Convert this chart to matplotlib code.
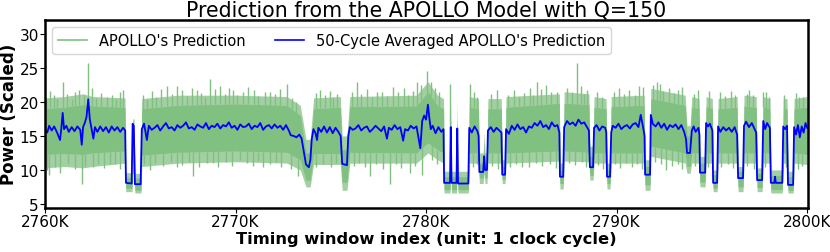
import numpy as np
import matplotlib
matplotlib.use('Agg')
import matplotlib.pyplot as plt
from matplotlib.lines import Line2D

# timing window index, in thousands of cycles
blue_x = [2760.00, 2760.12, 2760.22, 2760.35, 2760.48, 2760.62, 2760.79, 2760.86, 2760.93, 2761.00,
          2761.12, 2761.25, 2761.40, 2761.55, 2761.70, 2761.85, 2761.93, 2762.00, 2762.10, 2762.18,
          2762.27, 2762.35, 2762.45, 2762.54, 2762.62, 2762.75, 2762.90, 2763.05, 2763.20, 2763.35,
          2763.50, 2763.65, 2763.80, 2763.95, 2764.10, 2764.21, 2764.25, 2764.55, 2764.60, 2764.66,
          2764.72, 2765.02, 2765.08, 2765.20, 2765.35, 2765.45, 2765.60, 2765.75, 2765.90, 2766.05,
          2766.20, 2766.35, 2766.50, 2766.65, 2766.80, 2766.95, 2767.10, 2767.25, 2767.40, 2767.55,
          2767.70, 2767.85, 2768.00, 2768.15, 2768.30, 2768.45, 2768.60, 2768.75, 2768.90, 2769.05,
          2769.20, 2769.35, 2769.50, 2769.65, 2769.80, 2769.95, 2770.10, 2770.25, 2770.40, 2770.55,
          2770.70, 2770.85, 2771.00, 2771.15, 2771.30, 2771.45, 2771.60, 2771.75, 2771.90, 2772.05,
          2772.20, 2772.35, 2772.50, 2772.65, 2772.80, 2772.90, 2773.05, 2773.20, 2773.35, 2773.47,
          2773.60, 2773.70, 2773.85, 2773.93, 2774.00, 2774.09, 2774.20, 2774.28, 2774.35, 2774.50,
          2774.65, 2774.80, 2774.95, 2775.10, 2775.25, 2775.40, 2775.52, 2775.60, 2775.85, 2775.92,
          2776.00, 2776.15, 2776.30, 2776.45, 2776.60, 2776.75, 2776.90, 2777.05, 2777.20, 2777.35,
          2777.50, 2777.65, 2777.80, 2777.95, 2778.05, 2778.20, 2778.35, 2778.50, 2778.65, 2778.80,
          2778.90, 2779.05, 2779.20, 2779.35, 2779.50, 2779.70, 2779.80, 2779.90, 2780.00, 2780.10,
          2780.18, 2780.25, 2780.35, 2780.50, 2780.65, 2780.80, 2780.92, 2780.95, 2781.26, 2781.30,
          2781.34, 2781.60, 2781.64, 2781.68, 2782.22, 2782.27, 2782.40, 2782.55, 2782.70, 2782.76,
          2782.80, 2783.00, 2783.05, 2783.10, 2783.20, 2783.25, 2783.40, 2783.55, 2783.70, 2783.85,
          2783.96, 2784.00, 2784.15, 2784.20, 2784.35, 2784.50, 2784.65, 2784.80, 2784.95, 2785.10,
          2785.25, 2785.40, 2785.55, 2785.70, 2785.85, 2786.00, 2786.15, 2786.30, 2786.45, 2786.60,
          2786.75, 2786.90, 2787.00, 2787.03, 2787.20, 2787.25, 2787.40, 2787.55, 2787.70, 2787.85,
          2788.00, 2788.15, 2788.30, 2788.45, 2788.55, 2788.60, 2788.77, 2788.82, 2788.95, 2789.10,
          2789.25, 2789.40, 2789.46, 2789.50, 2789.66, 2789.72, 2789.80, 2789.95, 2790.10, 2790.25,
          2790.40, 2790.55, 2790.70, 2790.85, 2791.00, 2791.15, 2791.27, 2791.40, 2791.47, 2791.50,
          2791.76, 2791.80, 2791.90, 2792.05, 2792.20, 2792.35, 2792.50, 2792.65, 2792.80, 2792.95,
          2793.10, 2793.25, 2793.40, 2793.55, 2793.65, 2793.70, 2793.86, 2793.95, 2794.05, 2794.15,
          2794.30, 2794.35, 2794.38, 2794.65, 2794.70, 2794.80, 2794.90, 2795.03, 2795.07, 2795.28,
          2795.33, 2795.45, 2795.60, 2795.75, 2795.90, 2796.05, 2796.20, 2796.33, 2796.38, 2796.64,
          2796.69, 2796.80, 2796.95, 2797.10, 2797.25, 2797.33, 2797.38, 2797.64, 2797.70, 2797.80,
          2797.90, 2798.05, 2798.10, 2798.28, 2798.32, 2798.36, 2798.70, 2798.75, 2798.85, 2798.95,
          2799.00, 2799.27, 2799.32, 2799.42, 2799.52, 2799.62, 2799.72, 2799.82, 2799.92, 2800.00]
blue_y = [16.0, 15.5, 16.5, 15.8, 16.4, 15.6, 14.4, 16.2, 18.4, 16.0,
          16.5, 15.6, 16.3, 15.7, 16.4, 15.9, 13.7, 16.3, 17.0, 17.8,
          20.4, 17.5, 16.0, 14.6, 16.3, 15.6, 16.4, 15.7, 16.3, 15.5,
          16.4, 15.8, 16.3, 15.6, 16.2, 15.8, 8.1, 8.0, 16.8, 16.5,
          7.9, 7.9, 16.0, 16.8, 14.4, 16.5, 15.9, 16.2, 16.6, 15.8,
          16.4, 16.9, 16.1, 16.3, 15.8, 16.6, 16.2, 16.5, 17.0, 16.1,
          16.3, 15.9, 16.7, 16.4, 16.2, 16.9, 16.0, 16.5, 16.3, 16.8,
          16.1, 16.6, 16.4, 17.0, 16.2, 16.5, 15.9, 16.7, 16.3, 16.4,
          16.8, 16.0, 16.5, 16.3, 16.9, 15.9, 16.4, 16.6, 16.1, 16.7,
          16.2, 16.5, 15.9, 16.6, 15.8, 15.1, 15.0, 14.8, 15.2, 14.6,
          12.5, 10.8, 10.4, 11.5, 14.5, 16.0, 15.4, 14.4, 16.2, 15.6,
          16.4, 15.5, 16.3, 15.4, 16.2, 15.6, 15.0, 10.9, 10.7, 15.0,
          16.3, 15.9, 16.1, 16.6, 15.8, 16.2, 16.4, 15.6, 16.0, 16.5,
          16.1, 15.7, 16.4, 14.6, 16.2, 15.9, 16.6, 16.0, 16.3, 14.3,
          16.0, 15.8, 16.5, 16.1, 16.4, 13.2, 17.2, 18.0, 17.4, 19.6,
          17.5, 16.0, 16.5, 15.4, 16.3, 15.6, 16.0, 8.1, 8.1, 16.3,
          8.1, 8.1, 16.1, 8.0, 8.0, 16.2, 15.5, 16.4, 15.7, 15.0,
          9.7, 9.7, 12.0, 10.0, 10.0, 15.8, 16.3, 15.6, 16.2, 15.8,
          15.5, 9.3, 9.3, 16.0, 15.3, 16.5, 15.9, 16.7, 16.0, 16.3,
          15.5, 16.4, 16.2, 16.9, 16.5, 17.2, 16.3, 16.6, 16.0, 17.0,
          16.4, 16.6, 15.5, 9.0, 9.0, 16.3, 17.2, 16.7, 17.0, 16.5,
          17.4, 16.8, 17.0, 16.3, 15.8, 10.4, 10.4, 16.2, 16.6, 15.8,
          16.4, 16.2, 15.6, 9.0, 9.0, 15.5, 16.5, 16.2, 16.8, 16.0,
          16.4, 16.6, 16.1, 16.7, 16.9, 16.3, 18.1, 16.2, 15.0, 9.3,
          9.3, 18.1, 16.8, 16.4, 17.0, 16.2, 16.8, 15.9, 16.6, 16.3,
          16.7, 16.0, 16.6, 15.6, 14.5, 12.5, 12.5, 15.8, 16.4, 15.6,
          16.2, 15.2, 9.6, 9.6, 16.9, 16.4, 16.8, 15.8, 8.1, 8.1,
          16.4, 15.6, 16.3, 15.8, 16.2, 15.6, 16.3, 15.2, 8.8, 8.8,
          16.5, 17.1, 16.3, 16.9, 16.0, 15.5, 8.5, 8.5, 17.2, 16.0,
          16.9, 16.2, 8.1, 8.1, 9.0, 8.1, 8.1, 16.4, 16.0, 16.5,
          7.8, 7.8, 16.3, 15.2, 16.6, 14.8, 16.4, 15.5, 16.9, 16.2]

# envelope of the raw prediction: outer (sparse spikes) and dense core
band_x = [2760.00, 2761.00, 2762.00, 2762.50, 2764.20, 2764.24, 2764.57, 2764.60, 2764.68, 2764.72,
          2765.04, 2765.08, 2767.00, 2770.00, 2772.70, 2773.40, 2773.70, 2773.92, 2774.10, 2775.50,
          2775.60, 2775.85, 2776.00, 2779.50, 2780.10, 2780.60, 2780.92, 2780.95, 2781.26, 2781.30,
          2781.34, 2781.60, 2781.64, 2781.68, 2782.22, 2782.27, 2782.75, 2782.80, 2783.00, 2783.05,
          2783.10, 2783.20, 2783.25, 2783.95, 2784.00, 2784.15, 2784.20, 2787.00, 2787.03, 2787.20,
          2787.25, 2788.55, 2788.60, 2788.77, 2788.82, 2789.45, 2789.50, 2789.66, 2789.72, 2791.45,
          2791.50, 2791.76, 2791.80, 2793.60, 2793.70, 2793.86, 2793.95, 2794.33, 2794.38, 2794.65,
          2794.70, 2795.03, 2795.07, 2795.28, 2795.33, 2796.33, 2796.38, 2796.64, 2796.69, 2797.33,
          2797.38, 2797.64, 2797.69, 2798.05, 2798.10, 2798.70, 2798.75, 2798.95, 2799.00, 2799.27,
          2799.32, 2800.00]
outer_lo = [10.3, 10.5, 10.3, 10.5, 11.0, 6.8, 6.8, 9.5, 9.5, 6.6,
            6.6, 10.5, 11.0, 11.2, 11.0, 10.0, 7.5, 7.5, 10.8, 10.8,
            7.0, 7.0, 11.0, 11.0, 12.5, 11.5, 11.0, 6.6, 6.6, 10.0,
            6.6, 6.6, 10.0, 6.6, 6.6, 11.0, 11.0, 8.0, 8.0, 9.5,
            8.0, 8.0, 11.0, 11.0, 8.0, 8.0, 11.0, 11.3, 7.2, 7.2,
            11.3, 11.2, 8.5, 8.5, 11.0, 11.0, 7.2, 7.2, 11.0, 11.0,
            7.0, 7.0, 12.0, 11.0, 9.5, 9.5, 11.0, 11.0, 7.5, 7.5,
            11.0, 11.0, 6.8, 6.8, 11.0, 11.0, 6.8, 6.8, 11.0, 11.0,
            6.8, 6.8, 11.0, 11.0, 6.6, 6.6, 11.0, 11.0, 6.6, 6.6,
            11.0, 10.8]
core_lo = [12.3, 12.4, 12.3, 12.5, 12.8, 7.3, 7.3, 11.0, 11.0, 7.0,
           7.0, 12.2, 12.6, 12.8, 12.6, 11.5, 8.5, 8.5, 12.4, 12.4,
           8.2, 8.2, 12.6, 12.5, 14.0, 13.0, 12.5, 7.1, 7.1, 12.0,
           7.1, 7.1, 12.0, 7.1, 7.1, 12.5, 12.5, 8.8, 8.8, 10.5,
           8.8, 8.8, 12.5, 12.5, 8.6, 8.6, 12.5, 12.8, 8.0, 8.0,
           12.8, 12.6, 9.2, 9.2, 12.5, 12.5, 8.0, 8.0, 12.5, 12.5,
           7.8, 7.8, 13.5, 12.5, 10.5, 10.5, 12.5, 12.5, 8.2, 8.2,
           12.5, 12.5, 7.3, 7.3, 12.5, 12.5, 7.5, 7.5, 12.5, 12.5,
           7.4, 7.4, 12.5, 12.5, 7.1, 7.1, 12.5, 12.5, 7.0, 7.0,
           12.5, 12.3]
core_hi = [19.0, 19.2, 19.6, 19.4, 19.2, 8.9, 8.9, 16.0, 16.0, 8.8,
           8.8, 19.0, 19.5, 19.7, 19.5, 18.0, 12.5, 12.5, 19.0, 19.2,
           13.0, 13.0, 19.3, 19.4, 21.5, 19.5, 19.0, 9.0, 9.0, 18.0,
           9.0, 9.0, 18.0, 9.0, 9.0, 19.2, 19.0, 11.0, 11.0, 14.0,
           11.0, 11.0, 19.0, 19.0, 10.5, 10.5, 19.2, 19.8, 10.0, 10.0,
           19.8, 19.6, 12.0, 12.0, 19.2, 19.0, 10.0, 10.0, 19.3, 19.5,
           10.5, 10.5, 20.5, 19.5, 15.0, 15.0, 19.2, 19.0, 11.0, 11.0,
           19.3, 19.0, 9.3, 9.3, 19.0, 19.2, 9.8, 9.8, 19.4, 19.2,
           9.5, 9.5, 19.3, 19.0, 9.2, 9.2, 19.0, 19.0, 9.0, 9.0,
           19.0, 19.2]
outer_hi = [20.6, 20.8, 21.2, 20.8, 20.6, 9.6, 9.6, 17.5, 17.5, 9.5,
            9.5, 20.5, 21.0, 21.0, 20.8, 19.5, 14.5, 14.5, 20.6, 20.8,
            15.0, 15.0, 20.8, 21.0, 23.0, 21.0, 20.5, 9.8, 9.8, 20.0,
            9.8, 9.8, 20.0, 9.8, 9.8, 20.8, 20.5, 12.5, 12.5, 15.5,
            12.5, 12.5, 20.5, 20.5, 11.5, 11.5, 20.8, 21.2, 11.0, 11.0,
            21.5, 21.2, 13.5, 13.5, 20.8, 20.5, 11.0, 11.0, 20.8, 21.0,
            11.5, 11.5, 22.0, 21.0, 16.5, 16.5, 20.8, 20.5, 12.0, 12.0,
            20.8, 20.5, 10.0, 10.0, 20.5, 20.8, 10.5, 10.5, 21.0, 20.8,
            10.3, 10.3, 20.8, 20.5, 10.0, 10.0, 20.5, 20.5, 9.8, 9.8,
            20.5, 20.8]

# single-cycle peaks sticking out of the band
spike_up_x = [2760.26, 2760.93, 2761.80, 2762.27, 2763.24, 2764.11, 2765.34, 2766.39, 2766.91, 2767.96,
              2768.66, 2769.19, 2769.88, 2770.67, 2771.81, 2772.69, 2774.44, 2775.13, 2776.36, 2777.41,
              2778.28, 2779.51, 2780.04, 2781.26, 2782.31, 2784.90, 2785.81, 2786.85, 2787.91, 2788.45,
              2791.40, 2792.10, 2792.28, 2793.42, 2794.30, 2796.83, 2797.70, 2799.80,
              2760.05, 2760.45, 2760.65, 2761.15, 2761.40, 2761.60, 2762.05, 2762.45, 2762.70, 2762.95,
              2763.50, 2763.75, 2763.95, 2765.15, 2765.60, 2765.85, 2766.10, 2766.65, 2767.20, 2767.45,
              2767.70, 2768.20, 2768.40, 2768.95, 2769.45, 2769.65, 2770.10, 2770.40, 2770.95, 2771.20,
              2771.55, 2772.05, 2772.35, 2772.95, 2773.20, 2774.20, 2774.70, 2774.95, 2775.35, 2776.10,
              2776.60, 2776.90, 2777.15, 2777.70, 2777.95, 2778.55, 2778.85, 2779.05, 2779.30, 2779.75,
              2780.25, 2780.45, 2780.70, 2782.50, 2782.65, 2783.40, 2783.70, 2784.30, 2784.60, 2785.15,
              2785.45, 2785.60, 2786.05, 2786.30, 2786.55, 2787.40, 2787.65, 2788.15, 2788.30, 2789.00,
              2789.25, 2789.85, 2790.15, 2790.40, 2790.65, 2790.95, 2791.20, 2791.90, 2792.45, 2792.75,
              2793.00, 2793.25, 2794.05, 2794.85, 2795.45, 2795.70, 2796.00, 2796.20, 2796.95, 2797.15,
              2797.85, 2798.00, 2798.80, 2799.40, 2799.60]
spike_up_y = [21.6, 23.0, 21.8, 25.7, 20.8, 21.7, 20.5, 22.3, 22.3, 21.8,
              23.4, 22.3, 21.8, 22.2, 21.5, 22.7, 21.8, 20.8, 23.0, 21.5,
              22.2, 23.0, 24.5, 22.7, 22.7, 20.8, 23.0, 21.5, 25.7, 21.8,
              22.2, 23.0, 22.7, 22.2, 21.8, 21.2, 21.5, 20.8,
              20.3, 21.0, 20.5, 21.2, 20.4, 21.5, 21.0, 22.0, 20.6, 21.3,
              21.0, 20.4, 21.4, 21.0, 21.6, 20.8, 21.9, 21.2, 21.7, 20.9,
              22.0, 21.3, 20.8, 21.9, 21.2, 22.0, 21.0, 21.5, 21.8, 20.9,
              21.4, 21.2, 21.9, 20.6, 20.0, 21.3, 21.0, 21.6, 21.2, 21.4,
              21.1, 21.9, 20.8, 21.5, 20.9, 21.4, 22.0, 21.0, 21.6, 22.5,
              23.0, 22.0, 21.5, 21.4, 20.8, 21.2, 21.8, 21.0, 21.7, 21.3,
              22.0, 21.0, 21.9, 22.5, 21.4, 22.0, 21.4, 22.3, 21.2, 21.4,
              20.8, 21.5, 22.0, 21.2, 21.8, 21.0, 22.3, 22.5, 21.6, 22.0,
              21.3, 21.8, 21.2, 21.6, 21.4, 20.9, 21.6, 21.0, 21.7, 21.0,
              21.4, 20.8, 21.0, 21.3, 20.7]
spike_dn_x = [2760.23, 2761.93, 2762.54, 2763.41, 2765.51, 2766.91, 2767.79, 2768.49, 2770.24, 2771.46,
              2773.30, 2777.06, 2778.11, 2779.16, 2779.77, 2785.40, 2792.60,
              2760.10, 2760.50, 2760.80, 2761.20, 2761.55, 2762.10, 2762.80, 2763.10, 2763.70, 2763.95,
              2765.20, 2765.80, 2766.20, 2766.60, 2767.20, 2767.55, 2768.10, 2768.80, 2769.10, 2769.50,
              2769.80, 2770.60, 2770.90, 2771.20, 2771.80, 2772.10, 2772.40, 2772.90, 2774.25, 2774.60,
              2775.00, 2775.30, 2776.20, 2776.50, 2776.80, 2777.40, 2777.75, 2778.40, 2778.70, 2779.40,
              2780.30, 2780.60, 2782.45, 2782.65, 2783.45, 2783.80, 2784.40, 2784.70, 2785.05, 2785.75,
              2786.10, 2786.50, 2786.80, 2787.50, 2787.80, 2788.20, 2788.40, 2789.05, 2789.30, 2789.90,
              2790.20, 2790.50, 2790.80, 2791.10, 2791.35, 2792.00, 2792.35, 2792.90, 2793.20, 2793.45,
              2794.10, 2794.80, 2795.50, 2795.85, 2796.10, 2796.85, 2797.20, 2797.80, 2798.90, 2799.50,
              2799.75]
spike_dn_y = [9.3, 8.0, 10.5, 10.8, 10.0, 10.5, 9.1, 11.0, 11.5, 10.5,
              9.1, 9.1, 8.0, 9.6, 9.3, 10.5, 10.0,
              10.0, 10.4, 9.6, 10.8, 10.2, 10.6, 10.8, 10.3, 10.9, 10.1,
              10.8, 11.0, 10.6, 11.2, 10.7, 11.1, 10.4, 11.0, 10.5, 11.2,
              10.6, 11.0, 10.6, 11.3, 10.8, 11.2, 10.5, 10.2, 10.4, 10.8,
              10.5, 11.0, 10.6, 11.0, 10.4, 10.9, 10.2, 10.9, 10.3, 10.6,
              11.5, 10.8, 10.5, 10.9, 10.6, 10.2, 10.4, 10.9, 10.5, 11.0,
              10.6, 10.8, 10.3, 11.0, 10.7, 11.2, 10.5, 10.7, 10.2, 10.8,
              10.3, 11.0, 10.5, 10.9, 10.2, 11.2, 10.8, 10.6, 10.9, 10.2,
              10.6, 10.5, 10.4, 10.9, 10.3, 10.6, 10.2, 10.5, 10.4, 10.1,
              10.6]

x_ticks = [2760, 2770, 2780, 2790, 2800]
y_ticks = [5, 10, 15, 20, 25, 30]

raw_color = '#80c080'
fig = plt.figure(figsize=(8.3, 2.53), dpi=100)
ax = fig.add_axes([0.0542, 0.174, 0.9193, 0.744])

ax.fill_between(band_x, outer_lo, outer_hi, color='#a3d0a3', lw=0)
ax.fill_between(band_x, core_lo, core_hi, color=raw_color, lw=0)
ax.vlines(spike_up_x, np.interp(spike_up_x, band_x, core_hi), spike_up_y, color=raw_color, lw=1.0)
ax.vlines(spike_dn_x, spike_dn_y, np.interp(spike_dn_x, band_x, core_lo), color=raw_color, lw=1.0)
ax.plot(blue_x, blue_y, color='b', lw=1.3)

handles = [Line2D([], [], color=raw_color, lw=1.2), Line2D([], [], color='b', lw=1.2)]
ax.legend(handles, ["APOLLO's Prediction", "50-Cycle Averaged APOLLO's Prediction"],
          loc='upper left', ncol=2, fontsize=10.5)

ax.set_xlim(2760, 2800.05)
ax.set_ylim(4.4, 32.1)
ax.set_xticks(x_ticks)
ax.set_xticklabels([str(t) + 'K' for t in x_ticks])
ax.set_yticks(y_ticks)
ax.tick_params(labelsize=11, length=3.5, pad=1)
for s in ax.spines.values():
    s.set_linewidth(1.8)

ax.set_title('Prediction from the APOLLO Model with Q=150', fontsize=14.8, pad=2)
ax.set_xlabel('Timing window index (unit: 1 clock cycle)', fontsize=11.7, fontweight='bold', labelpad=1)
ax.set_ylabel('Power (Scaled)', fontsize=12, fontweight='bold', labelpad=1)

fig.savefig('out.png', dpi=100)
